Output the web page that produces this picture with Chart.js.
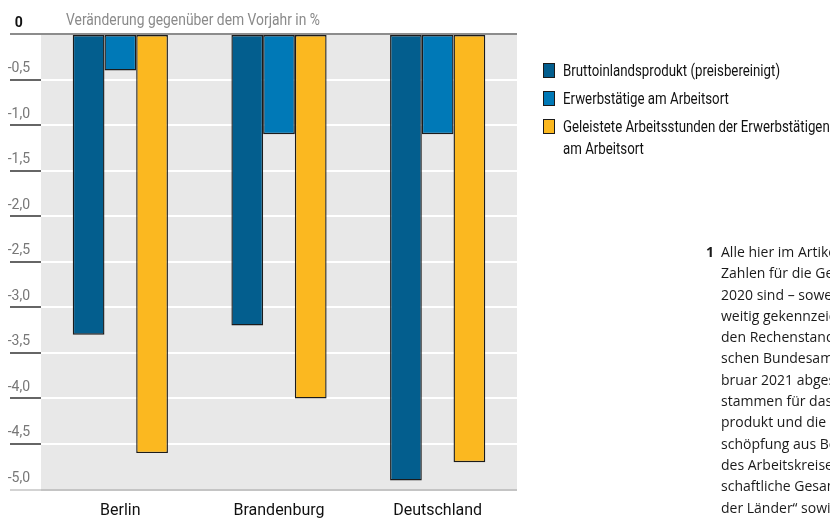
<!DOCTYPE html>
<html lang="de">
<head>
<meta charset="utf-8">
<script src="https://cdn.jsdelivr.net/npm/chart.js@4/dist/chart.umd.min.js"></script>
<style>
  html, body { margin: 0; padding: 0; background: #fff; }
  #wrap { position: relative; width: 830px; height: 520px; overflow: hidden; }
  #chart { position: absolute; left: 0; top: 0; }
  .narrow { font-family: Roboto, 'Liberation Sans', sans-serif; white-space: nowrap; transform-origin: 0 0; }
  #unit { position: absolute; left: 66px; top: 8px; font-size: 17px; line-height: 22px; color: #8a8a8a; }
  #legend { position: absolute; left: 543px; top: 62px; }
  #legend .item { position: relative; height: 22px; margin-bottom: 6px; }
  #legend .item.two { height: 44px; }
  #legend .box { position: absolute; left: 0; top: 1px; width: 10px; height: 13px; border: 1.5px solid #1b1b1b; }
  #legend .txt { position: absolute; left: 20px; top: -2px; font-size: 16.5px; line-height: 22px; color: #111; }
  #note { position: absolute; left: 706px; top: 241px; font-family: 'Open Sans', 'Noto Sans', sans-serif; font-size: 14px; color: #1a1a1a; line-height: 21.3px; white-space: nowrap; }
  #note .num { position: absolute; left: 0; top: 0; font-weight: bold; }
  #note .lines { margin-left: 15px; }
</style>
</head>
<body>
<div id="wrap">
  <canvas id="chart" width="830" height="520"></canvas>
  <div id="unit" class="narrow">Veränderung gegenüber dem Vorjahr in %</div>
  <div id="legend"></div>
  <div id="note">
    <span class="num">1</span>
    <div class="lines">
      <div>Alle hier im Artikel</div>
      <div>Zahlen für die Gesamtjahre</div>
      <div>2020 sind – soweit nicht an-</div>
      <div>weitig gekennzeichnet – auf</div>
      <div>den Rechenstand des Statisti-</div>
      <div>schen Bundesamtes vom Fe-</div>
      <div>bruar 2021 abgestimmt. Sie</div>
      <div>stammen für das Bruttoinlands-</div>
      <div>produkt und die Bruttowert-</div>
      <div>schöpfung aus Berechnungen</div>
      <div>des Arbeitskreises „Volkswirt-</div>
      <div>schaftliche Gesamtrechnungen</div>
      <div>der Länder“ sowie</div>
    </div>
  </div>
</div>
<script>
// Regions and annual change in percent
const categories = ['Berlin', 'Brandenburg', 'Deutschland'];
const seriesNames = [
  'Bruttoinlandsprodukt (preisbereinigt)',
  'Erwerbstätige am Arbeitsort',
  'Geleistete Arbeitsstunden der Erwerbstätigen am Arbeitsort'
];
const bip = [-3.3, -3.2, -4.9];
const erwerbstaetige = [-0.4, -1.1, -1.1];
const arbeitsstunden = [-4.6, -4.0, -4.7];
const yMin = -5;
const yMax = 0;
const yStep = 0.5;

const colors = ['#035e8e', '#0079b7', '#fbb820'];

// HTML legend built from the series names and colours
const legendEl = document.getElementById('legend');
const legendLabels = [
  seriesNames[0],
  seriesNames[1],
  'Geleistete Arbeitsstunden der Erwerbstätigen<br>am Arbeitsort'
];
legendLabels.forEach((label, i) => {
  const item = document.createElement('div');
  item.className = 'item' + (label.includes('<br>') ? ' two' : '');
  item.innerHTML = '<span class="box" style="background:' + colors[i] + '"></span>' +
    '<div class="txt narrow">' + label + '</div>';
  legendEl.appendChild(item);
});

// squeeze the sans text horizontally to a condensed look
function condense(el, factor) { el.style.transform = 'scaleX(' + factor + ')'; }
const unitEl = document.getElementById('unit');
condense(unitEl, 254 / unitEl.getBoundingClientRect().width);
const firstTxt = legendEl.querySelector('.txt');
const legendFactor = 217 / firstTxt.getBoundingClientRect().width;
legendEl.querySelectorAll('.txt').forEach(el => condense(el, legendFactor));

// grey plotting field behind grid and bars
const plotBackground = {
  id: 'plotBackground',
  beforeDraw(chart) {
    const { ctx, chartArea: a } = chart;
    ctx.save();
    ctx.fillStyle = '#e8e8e8';
    ctx.fillRect(a.left, a.top, a.right - a.left, a.bottom - a.top);
    ctx.restore();
  }
};

const fmt = v => (v === 0 ? '0' : v.toFixed(1).replace('.', ','));
const tv = c => (c && c.tick ? c.tick.value : null);

Chart.defaults.font.family = "Roboto, 'Liberation Sans', sans-serif";

new Chart(document.getElementById('chart'), {
  type: 'bar',
  data: {
    labels: categories,
    datasets: [bip, erwerbstaetige, arbeitsstunden].map((values, i) => ({
      label: seriesNames[i],
      data: values,
      backgroundColor: colors[i],
      borderColor: '#1b1b1b',
      borderWidth: 1.4,
      borderSkipped: false,
      categoryPercentage: 0.6,
      barPercentage: 1.0
    }))
  },
  options: {
    responsive: false,
    animation: false,
    devicePixelRatio: 1,
    layout: { padding: { left: 0, right: 313, top: 34, bottom: 0.5 } },
    plugins: {
      legend: { display: false },
      tooltip: { enabled: false }
    },
    scales: {
      x: {
        grid: { display: false, drawTicks: false },
        border: { display: false },
        ticks: { color: '#111', font: { size: 16 }, padding: 12 },
        afterFit: s => { s.height = 30; }
      },
      y: {
        min: yMin,
        max: yMax,
        border: { display: false },
        grid: {
          color: c => tv(c) === 0 ? '#8c8c8c' : (tv(c) === yMin ? '#c4c4c4' : '#ffffff'),
          lineWidth: 2,
          tickColor: c => tv(c) === 0 ? '#8c8c8c' : (tv(c) === yMin ? '#c4c4c4' : '#333333'),
          tickWidth: c => tv(c) === 0 ? 2 : 1.5,
          tickLength: 31,
          drawTicks: true
        },
        ticks: {
          stepSize: yStep,
          callback: v => fmt(v),
          color: c => tv(c) === 0 ? '#111' : '#777',
          font: c => ({ size: 14, weight: tv(c) === 0 ? 'bold' : 'normal' }),
          crossAlign: 'center',
          padding: -20,
          labelOffset: -11
        },
        afterFit: s => { s.width = 41; }
      }
    }
  },
  plugins: [plotBackground]
});
</script>
</body>
</html>
